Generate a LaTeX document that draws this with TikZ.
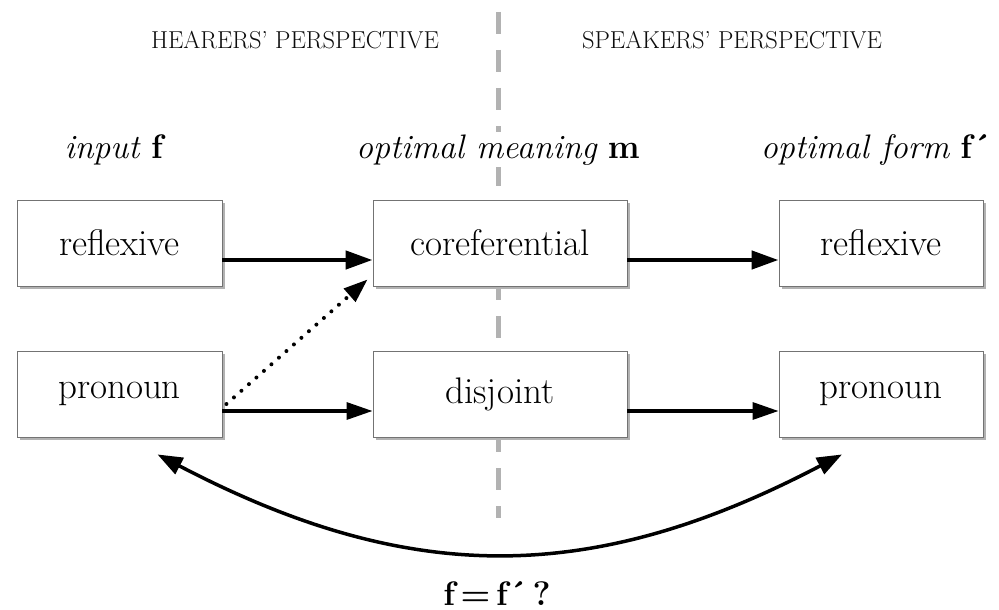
\documentclass[tikz,border=0pt]{standalone}
\usepackage{fontspec}
\usetikzlibrary{arrows.meta,shadows,calc}
\newcommand\boxfont{\fontsize{37}{42}\selectfont}
\newcommand\titlefont{\fontsize{34}{40}\selectfont}
\newcommand\headfont{\fontsize{24.5}{28}\selectfont}
\newcommand\eqfont{\fontsize{34}{36}\selectfont}
\begin{document}
\begin{tikzpicture}[x=1pt,y=-1pt,
  box/.style={draw=black!55, line width=0.9pt, fill=white, minimum height=86pt,
    inner sep=0pt, font=\boxfont,
    drop shadow={shadow xshift=3pt,shadow yshift=-3pt,fill=black!30,opacity=1}},
  title/.style={font=\titlefont, anchor=base, fill=white, inner sep=2pt},
  head/.style={font=\headfont, text=black!95},
  arrthick/.style={line width=4.5pt, -{Triangle[length=27pt,width=18pt]}},
  arrthin/.style={line width=3.3pt, -{Triangle[length=26pt,width=17pt]}},
  dotarr/.style={line width=4pt, line cap=round, dash pattern=on 0pt off 10pt,
    -{Triangle[length=24pt,width=17pt]}},
  curvearr/.style={line width=3.5pt,
    {Triangle[length=25pt,width=18pt]}-{Triangle[length=25pt,width=18pt]}},
  divider/.style={draw=black!30, line width=5pt, dash pattern=on 22pt off 16pt}
]
\useasboundingbox (0,0) rectangle (999,610);
\fill[white] (0,0) rectangle (999,610);

% divider line
\coordinate (dtop) at (498,12);
\coordinate (dbot) at (498,518);
\draw[divider] (dtop) -- (dbot);

% headings
\node[head] (hh) at (295,40) {HEARERS’ PERSPECTIVE};
\node[head] (hs) at (732,40) {SPEAKERS’ PERSPECTIVE};

% column titles
\node[title] (t1) at (115,158) {\textit{input} \textbf{f}};
\node[title] (t2) at (498,158) {\textit{optimal meaning} \textbf{m}};
\node[title] (t3) at (876,158) {\textit{optimal form} \textbf{f´}};

% boxes
\node[box, minimum width=205pt] (r1) at (119.5,243) {reflexive};
\node[box, minimum width=254pt] (m1) at (500,243) {coreferential};
\node[box, minimum width=204pt] (r3) at (881,243) {reflexive};
\node[box, minimum width=205pt] (p1) at (119.5,394) {pronoun};
\node[box, minimum width=254pt] (m2) at (500,394) {disjoint};
\node[box, minimum width=204pt] (p3) at (881,394) {pronoun};

% horizontal arrows
\draw[arrthick] ([yshift=-17pt]r1.east) -- ([yshift=-17pt]m1.west);
\draw[arrthick] ([yshift=-17pt]m1.east) -- ([yshift=-17pt]r3.west);
\draw[arrthin] ([yshift=-17pt]p1.east) -- ([yshift=-17pt]m2.west);
\draw[arrthin] ([yshift=-17pt]m2.east) -- ([yshift=-17pt]p3.west);

% dotted arrow
\coordinate (ds) at ($(p1.east)+(4,10)$);
\coordinate (de) at ($(m1.south west)+(-5,-7)$);
\draw[dotarr] (ds) -- (de);

% curved double arrow
\coordinate (cl) at ($(p1.south)+(38,17)$);
\coordinate (cr) at ($(p3.south)+(-39,17)$);
\draw[curvearr] (cl) .. controls (409,586) and (591,586) .. (cr);

% bottom label
\node[anchor=base, font=\eqfont, inner sep=1pt] (eq) at (497,605) {\textbf{f\,=\,f´\,?}};
\end{tikzpicture}
\end{document}
